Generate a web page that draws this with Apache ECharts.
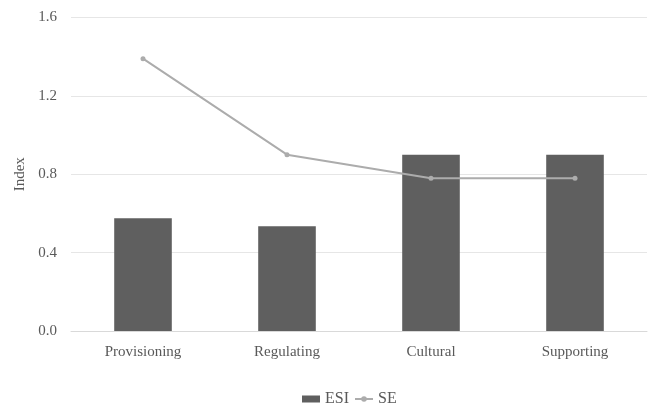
<!DOCTYPE html>
<html>
<head>
<meta charset="utf-8">
<script src="https://cdn.jsdelivr.net/npm/echarts@6/dist/echarts.min.js"></script>
<style>
  html, body { margin: 0; padding: 0; background: #fff; }
  #chart { width: 649px; height: 406px; }
</style>
</head>
<body>
<div id="chart"></div>
<script>
// Ecosystem service categories and their index values
const categories = ['Provisioning', 'Regulating', 'Cultural', 'Supporting'];
const esiValues = [0.575, 0.535, 0.90, 0.90];
const seValues = [1.39, 0.90, 0.78, 0.78];
const yTicks = { min: 0, max: 1.6, interval: 0.4 };

const font = 'Liberation Serif, Times New Roman, serif';
const textColor = '#595959';

const chart = echarts.init(document.getElementById('chart'), null, { renderer: 'canvas' });
chart.setOption({
  animation: false,
  textStyle: { fontFamily: font, color: textColor },
  grid: { left: 71, right: 2, top: 17.5, bottom: 75, containLabel: false },
  legend: {
    top: 386,
    left: 297,
    itemGap: 5,
    itemWidth: 18,
    itemHeight: 7,
    textStyle: { fontFamily: font, fontSize: 16, color: textColor },
    data: [
      { name: 'ESI', icon: 'rect' },
      { name: 'SE' }
    ]
  },
  xAxis: {
    type: 'category',
    data: categories,
    axisLine: { lineStyle: { color: '#d9d9d9', width: 1 } },
    axisTick: { show: false },
    axisLabel: { fontFamily: font, fontSize: 15, color: textColor, margin: 14 }
  },
  yAxis: {
    type: 'value',
    min: yTicks.min,
    max: yTicks.max,
    interval: yTicks.interval,
    name: 'Index',
    nameLocation: 'middle',
    nameGap: 41,
    nameRotate: 90,
    nameTextStyle: { fontFamily: font, fontSize: 15, color: textColor },
    axisLine: { show: false },
    axisTick: { show: false },
    axisLabel: {
      fontFamily: font, fontSize: 15, color: textColor, margin: 14,
      formatter: v => v.toFixed(1)
    },
    splitLine: { lineStyle: { color: '#e6e6e6', width: 1 } }
  },
  series: [
    {
      name: 'ESI',
      type: 'bar',
      data: esiValues,
      barWidth: '40%',
      itemStyle: { color: '#5f5f5f' }
    },
    {
      name: 'SE',
      type: 'line',
      data: seValues,
      symbol: 'circle',
      symbolSize: 5,
      lineStyle: { color: '#acacac', width: 2 },
      itemStyle: { color: '#acacac' }
    }
  ]
});
</script>
</body>
</html>
